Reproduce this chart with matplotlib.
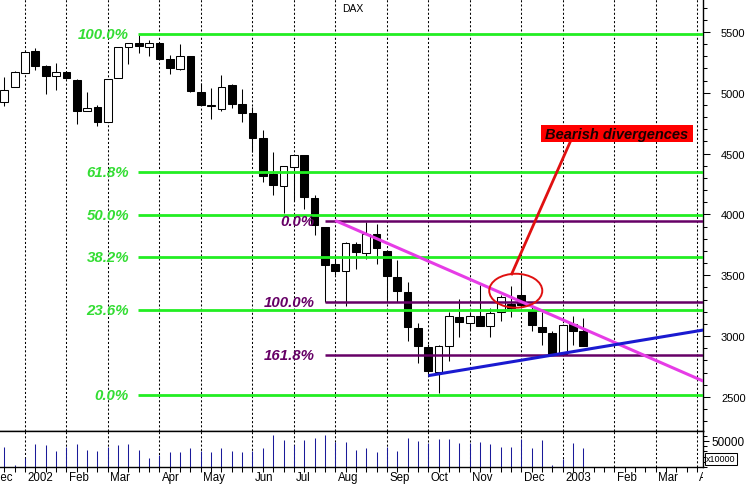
import numpy as np
import matplotlib
matplotlib.use('Agg')
import matplotlib.pyplot as plt
from matplotlib.patches import Ellipse, Rectangle
from matplotlib.ticker import MultipleLocator, FixedLocator

plt.rcParams['font.family'] = ['Liberation Sans', 'DejaVu Sans']

# weekly DAX bars, mid Dec 2001 .. mid Jan 2003
opens = [4925, 5045, 5163, 5341, 5218, 5136, 5174, 5108, 4853, 4881,
         4763, 5119, 5374, 5407, 5379, 5407, 5278, 5196, 5300, 5004,
         4890, 4867, 5064, 4908, 4832, 4626, 4333, 4237, 4388, 4489,
         4133, 3895, 3593, 3533, 3760, 3683, 3840, 3697, 3484, 3365,
         3064, 2908, 2708, 2921, 3155, 3108, 3163, 3081, 3196, 3264,
         3338, 3209, 3073, 3024, 2853, 3100, 3042]
highs = [5130, 5182, 5340, 5366, 5225, 5243, 5178, 5114, 5009, 4900,
         5115, 5380, 5410, 5475, 5434, 5410, 5311, 5401, 5302, 5078,
         5037, 5147, 5075, 5031, 4881, 4694, 4511, 4396, 4489, 4489,
         4160, 3900, 3661, 3774, 3770, 3936, 3922, 3700, 3628, 3442,
         3108, 2935, 2927, 3198, 3305, 3200, 3420, 3229, 3338, 3415,
         3502, 3248, 3196, 3045, 3100, 3166, 3147]
lows = [4892, 5045, 5160, 5190, 4994, 5023, 5110, 4744, 4850, 4725,
        4760, 5119, 5237, 5327, 5305, 5275, 5152, 5185, 5004, 4900,
        4785, 4851, 4878, 4758, 4511, 4265, 4163, 4012, 4113, 4045,
        3831, 3278, 3502, 3248, 3552, 3634, 3593, 3297, 3281, 2958,
        2779, 2681, 2533, 2798, 2990, 3050, 3080, 2989, 3127, 3157,
        3240, 3042, 2931, 2845, 2850, 2923, 2918]
closes = [5023, 5169, 5333, 5223, 5142, 5169, 5119, 4853, 4873, 4763,
          5111, 5374, 5407, 5387, 5407, 5278, 5204, 5300, 5017, 4902,
          4896, 5045, 4908, 4834, 4626, 4319, 4245, 4396, 4489, 4146,
          3914, 3585, 3538, 3766, 3689, 3840, 3722, 3492, 3373, 3073,
          2921, 2716, 2921, 3163, 3114, 3163, 3086, 3190, 3319, 3231,
          3256, 3092, 3031, 2853, 3092, 3045, 2921]
volume = [38500, 3000, 17900, 44800, 42900, 30800, 38500, 44800, 33300, 30800,
          38500, 42900, 44800, 33300, 17300, 22500, 28800, 28800, 36500, 30800,
          28800, 36500, 30800, 28800, 30800, 36500, 62100, 52500, 43000, 52500,
          55800, 62100, 48100, 48100, 33300, 36500, 28800, 38500, 30800, 55800,
          50000, 46700, 53300, 53300, 46200, 45600, 48100, 43600, 38500, 38500,
          54500, 36500, 51300, 3000, 15400, 46200, 36500]

# first weekly bar of each month
month_bars = [-2, 2, 6, 10, 15, 19, 24, 28, 32, 37, 41, 45, 50, 54, 59, 63, 67]
month_names = ['Dec', '2002', 'Feb', 'Mar', 'Apr', 'May', 'Jun', 'Jul', 'Aug',
               'Sep', 'Oct', 'Nov', 'Dec', '2003', 'Feb', 'Mar', 'Apr']

# fibonacci retracement of the 2002 fall
fib_pct = ['100.0%', '61.8%', '50.0%', '38.2%', '23.6%', '0.0%']
fib_lvl = [5480, 4349, 3999, 3650, 3218, 2519]
# extension levels of the summer leg
ext_pct = ['0.0%', '100.0%', '161.8%']
ext_lvl = [3949, 3278, 2847]

down_x, down_y = [32, 67.6], [3950, 2630]
up_x, up_y = [41, 67.6], [2675, 3050]

W, H = 751, 485
XMIN, XMAX = -0.42, 67.57

fig = plt.figure(figsize=(W / 100, H / 100), dpi=100)
ax = fig.add_axes([0, 53 / H, 703 / W, 432 / H])
vol = fig.add_axes([0, 17 / H, 703 / W, 36 / H])
lab = fig.add_axes([0, 0, 703 / W, 17 / H])

x = np.arange(len(opens))
o = np.array(opens)
c = np.array(closes)
up = c >= o

for a in (ax, vol):
    for b in month_bars:
        a.axvline(b, color='black', lw=0.75, ls=(0, (2, 2)), zorder=1)

# candles
ax.vlines(x, lows, highs, color='black', lw=0.75, zorder=2)
ax.bar(x, np.maximum(np.abs(c - o), 4), bottom=np.minimum(o, c), width=0.75,
       color=np.where(up, 'white', 'black'), edgecolor='black', linewidth=0.75, zorder=3)

ax.hlines(fib_lvl, 12.93, XMAX, colors='#22ee22', lw=2.0, zorder=4)
ax.hlines(ext_lvl, 31.0, XMAX, colors='#660066', lw=1.8, zorder=4)
for t, v in zip(fib_pct, fib_lvl):
    ax.text(12.06, v, t, ha='right', va='center', color='#33dd33', fontsize=10.8,
            fontweight='bold', fontstyle='italic', zorder=6)
for t, v in zip(ext_pct, ext_lvl):
    ax.text(30.05, v, t, ha='right', va='center', color='#660066', fontsize=10.8,
            fontweight='bold', fontstyle='italic', zorder=6)

ax.plot(down_x, down_y, color='#e63ce6', lw=2.2, zorder=5, solid_capstyle='butt')
ax.plot(up_x, up_y, color='#1a1ad0', lw=2.2, zorder=5, solid_capstyle='butt')

# divergence callout
ax.add_patch(Ellipse((49.46, 3373), 5.13, 279, fill=False, edgecolor='#e01010', lw=1.4, zorder=6))
ax.plot([49.07, 54.71], [3511, 4593], color='#e01010', lw=2.0, zorder=6)
fig.patches.append(Rectangle((541 / W, 1 - 142.7 / H), 151.7 / W, 16.7 / H,
                             transform=fig.transFigure, facecolor='#ff0000', edgecolor='none'))
fig.text(617 / W, 1 - 134.5 / H, 'Bearish divergences', ha='center', va='center',
         fontsize=10.5, fontweight='bold', fontstyle='italic', color='#1a0000')
fig.text(352.5 / W, 1 - 9 / H, 'DAX', ha='center', va='center', fontsize=7.5)

ax.set_xlim(XMIN, XMAX)
ax.set_ylim(2220, 5771)
ax.set_xticks([])
ax.yaxis.tick_right()
ax.yaxis.set_major_locator(MultipleLocator(500))
ax.yaxis.set_minor_locator(MultipleLocator(100))
ax.tick_params(axis='y', which='major', length=5, width=0.75, pad=8, labelsize=8)
ax.tick_params(axis='y', which='minor', length=3, width=0.75)
for s in ('left', 'top'):
    ax.spines[s].set_visible(False)
for s in ('right', 'bottom'):
    ax.spines[s].set_linewidth(1.0)

# volume
vol.vlines(x, 0, volume, color='#1a1a99', lw=0.75, zorder=2)
vol.set_xlim(XMIN, XMAX)
vol.set_ylim(0, 69200)
vol.yaxis.tick_right()
vol.yaxis.set_major_locator(FixedLocator([50000]))
vol.yaxis.set_minor_locator(MultipleLocator(10000))
vol.tick_params(axis='y', which='major', length=4, width=0.75, pad=2, labelsize=8.5)
vol.tick_params(axis='y', which='minor', length=3, width=0.75)
vol.set_xticks(np.arange(0, 68))
vol.set_xticklabels([])
vol.tick_params(axis='x', length=3.5, width=0.75)
vol.spines['left'].set_visible(False)
for s in ('right', 'bottom', 'top'):
    vol.spines[s].set_linewidth(1.0)
fig.text(721 / W, 1 - 460 / H, 'x10000', ha='center', va='center', fontsize=6.5,
         bbox=dict(facecolor='white', edgecolor='black', lw=0.75, pad=1.2))

# month labels, clipped at the plot edges like the original
lab.set_xlim(XMIN, XMAX)
lab.set_ylim(0, 1)
lab.axis('off')
label_x = [b + 0.22 for b in month_bars]
label_x[0] = -1.15  # first "Dec" is cut by the left edge
for lx, name in zip(label_x, month_names):
    lab.text(lx, 0.42, name, ha='left', va='center', fontsize=8.3, clip_on=True)

fig.savefig('out.png', dpi=100, facecolor='white')
